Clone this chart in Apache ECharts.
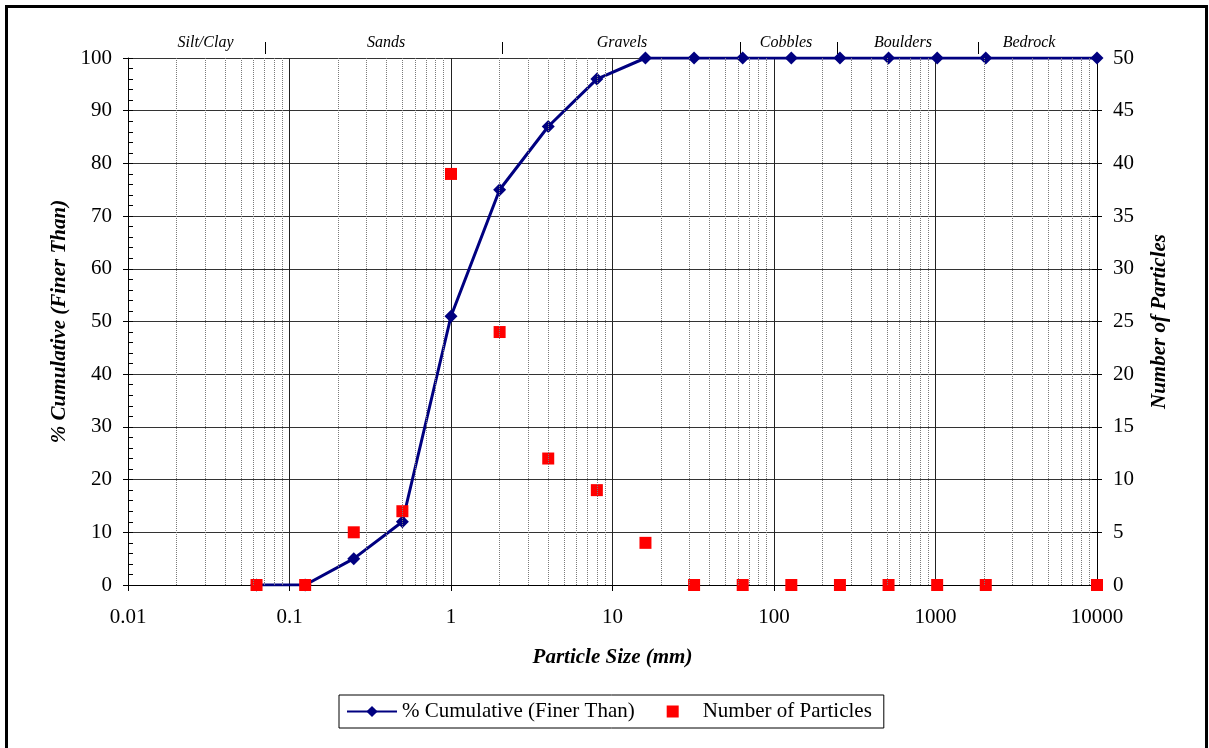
<!DOCTYPE html>
<html><head><meta charset="utf-8">
<script src="https://cdn.jsdelivr.net/npm/echarts@6/dist/echarts.min.js"></script>
<style>html,body{margin:0;padding:0;background:#fff}#c{width:1209px;height:748px}</style>
</head><body><div id="c"></div>
<script>
// ---- data ----
const particleSizes = [0.0625, 0.125, 0.25, 0.5, 1, 2, 4, 8, 16, 32, 64, 128, 256, 512, 1024, 2048, 10000];
const cumulativePct = [0, 0, 5, 12, 51, 75, 87, 96, 100, 100, 100, 100, 100, 100, 100, 100, 100];
const particleCounts = [0, 0, 5, 7, 39, 24, 12, 9, 4, 0, 0, 0, 0, 0, 0, 0, 0];
const xTickLabels = ['0.01', '0.1', '1', '10', '100', '1000', '10000'];
const zoneNames = ['Silt/Clay', 'Sands', 'Gravels', 'Cobbles', 'Boulders', 'Bedrock'];
const zoneLabelSizes = [0.0302, 0.396, 11.45, 118.7, 629, 3793];
const zoneBoundarySizes = [0.0705, 2.07, 61.5, 245.6, 1833];

const FONT = "'Liberation Serif', 'Times New Roman', serif";
const minorGrid = [];
for (let d = -2; d <= 3; d++) for (let m = 2; m <= 9; m++) minorGrid.push({ xAxis: +(m * Math.pow(10, d)).toPrecision(6) });

const squareIcon = 'image://data:image/svg+xml;charset=utf-8,' + encodeURIComponent(
  '<svg xmlns="http://www.w3.org/2000/svg" width="50" height="14" viewBox="0 0 50 14"><rect x="19" y="1" width="12" height="12" fill="#ff0000"/></svg>');

const chart = echarts.init(document.getElementById('c'), null, { renderer: 'canvas' });
const titleStyle = { fontFamily: FONT, fontSize: 21, fontWeight: 'bold', fontStyle: 'italic', color: '#000' };
const labelStyle = { fontFamily: FONT, fontSize: 21, color: '#000' };

chart.setOption({
  animation: false,
  backgroundColor: '#fff',
  grid: { left: 128, right: 112, top: 58, bottom: 163 },
  xAxis: {
    type: 'log', logBase: 10, min: 0.01, max: 10000,
    name: 'Particle Size (mm)', nameLocation: 'middle', nameGap: 62, nameTextStyle: titleStyle,
    axisLine: { onZero: false, lineStyle: { color: '#000', width: 1 } },
    axisTick: { show: true, length: 6, lineStyle: { color: '#000' } },
    axisLabel: Object.assign({ margin: 22, formatter: v => xTickLabels[Math.round(Math.log10(v)) + 2] }, labelStyle),
    splitLine: { show: true, lineStyle: { color: '#222', width: 1 } }
  },
  yAxis: [
    {
      type: 'value', min: 0, max: 100, interval: 10, position: 'left',
      name: '% Cumulative (Finer Than)', nameLocation: 'middle', nameGap: 58, nameRotate: 90, nameTextStyle: titleStyle,
      axisLine: { show: true, lineStyle: { color: '#000' } },
      axisTick: { show: true, length: 5, lineStyle: { color: '#000' } },
      axisLabel: Object.assign({ margin: 16 }, labelStyle),
      splitLine: { show: true, lineStyle: { color: '#333', width: 1 } }
    },
    {
      type: 'value', min: 0, max: 50, interval: 5, position: 'right',
      name: 'Number of Particles', nameLocation: 'middle', nameGap: 52, nameRotate: 90, nameTextStyle: titleStyle,
      axisLine: { show: true, lineStyle: { color: '#000' } },
      axisTick: { show: true, length: 5, lineStyle: { color: '#000' } },
      axisLabel: Object.assign({ margin: 16 }, labelStyle),
      splitLine: { show: false }
    },
    {
      type: 'value', min: 0, max: 100, interval: 2, position: 'left',
      axisLine: { show: false },
      axisTick: { show: true, inside: true, length: 5, lineStyle: { color: '#000' } },
      axisLabel: { show: false }, splitLine: { show: false }
    },
    {
      type: 'value', min: 0, max: 50, interval: 5, position: 'right',
      axisLine: { show: false },
      axisTick: { show: true, inside: true, length: 5, lineStyle: { color: '#000' } },
      axisLabel: { show: false }, splitLine: { show: false }
    }
  ],
  legend: {
    left: 339, top: 695, itemWidth: 50, itemHeight: 14, itemGap: 13,
    padding: [6, 12, 6, 7], borderColor: '#000', borderWidth: 1,
    textStyle: { fontFamily: FONT, fontSize: 21, color: '#000' },
    data: [{ name: '% Cumulative (Finer Than)' }, { name: 'Number of Particles', icon: squareIcon }]
  },
  series: [
    {
      name: 'minor', type: 'line', data: [], z: 1, silent: true,
      markLine: {
        silent: true, symbol: ['none', 'none'], animation: false,
        label: { show: false },
        lineStyle: { color: '#7a7a7a', width: 1, type: [1, 1] },
        data: minorGrid
      }
    },
    {
      name: '% Cumulative (Finer Than)', type: 'line', yAxisIndex: 0, z: 3,
      data: particleSizes.map((s, i) => [s, cumulativePct[i]]),
      symbol: 'diamond', symbolSize: 13,
      lineStyle: { color: '#000080', width: 3 },
      itemStyle: { color: '#000080', opacity: 1 }
    },
    {
      name: 'Number of Particles', type: 'scatter', yAxisIndex: 1, z: 4,
      data: particleSizes.map((s, i) => [s, particleCounts[i]]),
      symbol: 'rect', symbolSize: 12,
      itemStyle: { color: '#ff0000', opacity: 1 }
    }
  ]
});

const graphics = [{
  type: 'rect', silent: true, z: 100,
  shape: { x: 6.5, y: 6.5, width: 1200, height: 800 },
  style: { fill: null, stroke: '#000', lineWidth: 3 }
}];
zoneNames.forEach((n, i) => {
  const px = chart.convertToPixel({ xAxisIndex: 0 }, zoneLabelSizes[i]);
  graphics.push({ type: 'text', x: px, y: 43, silent: true,
    style: { text: n, font: 'italic 16px ' + FONT, fill: '#000', align: 'center', verticalAlign: 'middle' } });
});
zoneBoundarySizes.forEach(v => {
  const px = Math.round(chart.convertToPixel({ xAxisIndex: 0 }, v)) + 0.5;
  graphics.push({ type: 'line', silent: true, shape: { x1: px, y1: 42, x2: px, y2: 54 }, style: { stroke: '#000', lineWidth: 1 } });
});
chart.setOption({ graphic: graphics });
</script></body></html>
